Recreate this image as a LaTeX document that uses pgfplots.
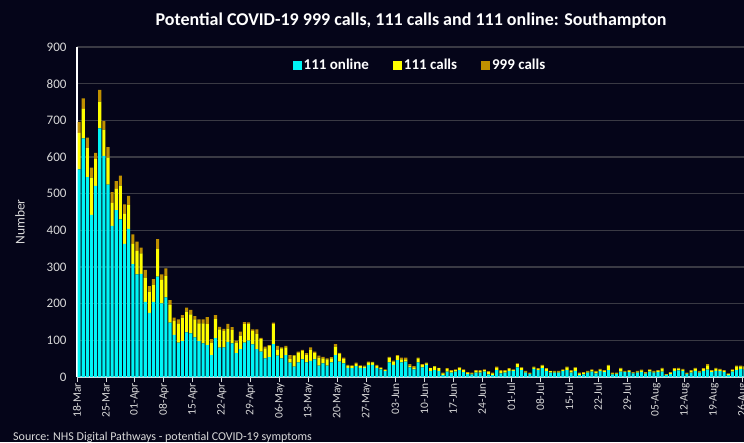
\documentclass[border=0pt]{standalone}
\usepackage{pgfplots}
\usepackage{pgfplotstable}
\pgfplotsset{compat=1.18}
\usepackage{fontspec}
\setmainfont{Carlito}
\definecolor{bg}{HTML}{050519}
\definecolor{onl}{HTML}{00F5F5}
\definecolor{c111}{HTML}{FFFF00}
\definecolor{c999}{HTML}{BF9000}
\definecolor{gridc}{HTML}{3A3A44}
\definecolor{lbl}{HTML}{D9D9D9}
\pgfplotstableread{
x on ca cn
0 566 100 30
1 651 80 29
2 545 79 29
3 442 102 27
4 521 73 17
5 678 73 32
6 603 72 23
7 525 73 29
8 412 63 29
9 455 58 21
10 430 92 27
11 363 82 26
12 404 65 25
13 308 55 26
14 280 64 25
15 281 56 16
16 205 66 21
17 175 58 15
18 205 47 15
19 274 75 27
20 201 64 15
21 217 58 21
22 148 48 14
23 115 38 9
24 94 51 12
25 98 64 7
26 122 56 11
27 119 52 12
28 108 49 9
29 98 48 11
30 92 54 11
31 87 57 19
32 60 34 9
33 106 52 11
34 80 50 7
35 81 45 5
36 96 36 13
37 92 36 8
38 65 29 5
39 76 37 11
40 94 50 6
41 99 45 5
42 89 37 4
43 76 41 13
44 69 34 4
45 51 27 5
46 54 31 2
47 90 54 4
48 58 16 11
49 51 27 3
50 60 21 4
51 39 10 11
52 28 30 2
53 40 26 3
54 48 23 3
55 40 20 5
56 44 31 6
57 48 17 4
58 31 22 5
59 37 14 4
60 31 17 3
61 40 11 3
62 60 23 7
63 42 21 3
64 37 12 4
65 25 5 3
66 24 6 2
67 30 6 3
68 25 5 2
69 25 3 3
70 33 7 2
71 33 7 1
72 24 6 3
73 21 3 2
74 16 3 2
75 40 13 2
76 33 9 3
77 46 11 3
78 40 8 5
79 42 6 5
80 26 5 4
81 21 5 4
82 40 11 2
83 26 7 2
84 33 4 2
85 16 8 1
86 19 10 1
87 16 8 1
88 5 5 2
89 15 7 2
90 12 5 2
91 15 4 2
92 19 6 1
93 13 6 2
94 8 3 2
95 7 3 2
96 12 5 2
97 12 4 3
98 15 4 2
99 7 8 1
100 5 5 2
101 19 6 3
102 10 6 3
103 12 4 3
104 16 6 2
105 17 2 2
106 26 9 2
107 19 6 1
108 12 3 2
109 8 2 2
110 22 4 2
111 19 3 2
112 24 7 2
113 16 6 2
114 12 4 1
115 12 3 2
116 12 3 2
117 16 3 2
118 19 7 2
119 12 4 3
120 17 8 1
121 5 5 2
122 7 4 2
123 12 3 2
124 15 4 2
125 10 5 2
126 16 4 2
127 13 4 2
128 19 12 2
129 7 3 2
130 8 2 2
131 15 8 2
132 13 2 2
133 14 3 2
134 10 2 1
135 12 3 2
136 14 4 2
137 9 2 2
138 15 4 2
139 12 3 2
140 14 3 2
141 15 8 2
142 5 2 1
143 8 3 2
144 17 5 2
145 18 5 2
146 16 4 2
147 8 2 2
148 12 5 2
149 17 6 2
150 12 3 2
151 16 6 2
152 20 12 3
153 13 4 2
154 17 6 2
155 16 4 2
156 13 4 2
157 6 2 2
158 15 4 2
159 19 10 2
160 22 7 2
161 20 8 2
}\datatab
\begin{document}
\begin{tikzpicture}
\fill[bg] (0,0) rectangle (744pt,442pt);
\begin{axis}[
  at={(77pt,65pt)}, anchor=south west,
  scale only axis, width=669.9pt, height=330pt,
  xmin=-0.5, xmax=161.5, ymin=0, ymax=900,
  ybar stacked, bar width=3.1pt,
  axis lines*=left,
  x axis line style={draw=lbl, line width=1.2pt},
  y axis line style={draw=white, line width=1.5pt},
  ytick={0,100,...,900},
  ytick style={draw=none},
  ymajorgrids, major grid style={draw=gridc, line width=1.3pt},
  xtick={-0.5,6.5,...,160.5},
  xticklabels={18-Mar,25-Mar,01-Apr,08-Apr,15-Apr,22-Apr,29-Apr,06-May,13-May,20-May,27-May,03-Jun,10-Jun,17-Jun,24-Jun,01-Jul,08-Jul,15-Jul,22-Jul,29-Jul,05-Aug,12-Aug,19-Aug,26-Aug},
  xtick style={draw=lbl, line width=0.8pt},
  tick align=outside, major tick length=5pt,
  xticklabel style={rotate=90, anchor=east, font=\fontsize{11.5}{13}\selectfont, text=lbl, inner sep=1pt},
  yticklabel style={font=\fontsize{13}{15}\selectfont, text=lbl, xshift=-2pt},
  /pgf/number format/assume math mode=true,
  ylabel={Number},
  ylabel style={at={(axis description cs:-0.085,0.47)}, anchor=center, font=\fontsize{13.5}{15}\selectfont, text=lbl},
  title={Potential COVID-19 999 calls, 111 calls and 111 online: Southampton},
  title style={at={(axis description cs:0.4986,1.061)}, anchor=center, font=\bfseries\fontsize{18}{20}\selectfont, text=white},
  legend style={at={(axis description cs:0.512,0.945)}, anchor=center, legend columns=3, draw=none, fill=none, text=white, font=\bfseries\fontsize{15}{17}\selectfont, /tikz/every even column/.append style={column sep=22pt}},
  legend image code/.code={\fill[#1,draw=none] (0pt,-4.5pt) rectangle (9pt,4.5pt);},
  clip=true,
]
\addplot[fill=onl, draw=none] table[x=x, y=on] {\datatab};
\addplot[fill=c111, draw=none] table[x=x, y=ca] {\datatab};
\addplot[fill=c999, draw=none] table[x=x, y=cn] {\datatab};
\legend{111 online, 111 calls, 999 calls}
\end{axis}
\node[anchor=base west, text=lbl, font=\fontsize{12}{14}\selectfont, inner sep=0pt] at (13pt,1.5pt) {Source: NHS Digital Pathways - potential COVID-19 symptoms};
\pgfresetboundingbox
\useasboundingbox (0,0) rectangle (744pt,442pt);
\end{tikzpicture}
\end{document}
